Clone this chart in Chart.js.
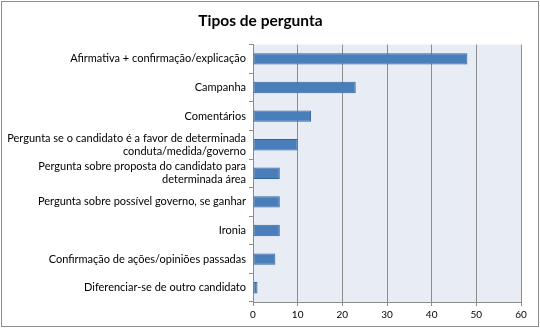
<!DOCTYPE html>
<html>
<head>
<meta charset="utf-8">
<script src="https://cdn.jsdelivr.net/npm/chart.js@4"></script>
<style>
  body { margin: 0; background: #fff; }
  #wrap { position: relative; width: 540px; height: 328px; }
  #frame { position: absolute; left: 1px; top: 1px; width: 536px; height: 324px; border: 1px solid #8e8e8e; pointer-events: none; }
</style>
</head>
<body>
<div id="wrap">
  <canvas id="chart" width="540" height="328"></canvas>
  <div id="frame"></div>
</div>
<script>
// categories, top to bottom
const categories = [
  'Afirmativa + confirmação/explicação',
  'Campanha',
  'Comentários',
  ['Pergunta se o candidato é a favor de determinada', 'conduta/medida/governo'],
  ['Pergunta sobre proposta do candidato para', 'determinada área'],
  'Pergunta sobre possível governo, se ganhar',
  'Ironia',
  'Confirmação de ações/opiniões passadas',
  'Diferenciar-se de outro candidato'
];
const counts = [48, 23, 13, 10, 6, 6, 6, 5, 1];
const xTicks = [0, 10, 20, 30, 40, 50, 60];

const fontFamily = 'Lato, "Open Sans", sans-serif';

// light blue-grey plot background
const plotBg = {
  id: 'plotBg',
  beforeDraw(chart) {
    const { ctx, chartArea: a } = chart;
    ctx.save();
    ctx.fillStyle = '#e8ecf4';
    ctx.fillRect(a.left, a.top, a.right - a.left, a.bottom - a.top);
    ctx.restore();
  }
};

const ctx = document.getElementById('chart').getContext('2d');
new Chart(ctx, {
  type: 'bar',
  data: {
    labels: categories,
    datasets: [{
      label: 'Tipos de pergunta',
      data: counts,
      backgroundColor: '#4a7ebb',
      borderColor: '#35649c',
      borderWidth: 1,
      borderSkipped: false,
      barPercentage: 0.4,
      categoryPercentage: 1
    }]
  },
  options: {
    indexAxis: 'y',
    responsive: false,
    animation: false,
    layout: { padding: { top: 2, left: 0, right: 19, bottom: 0 } },
    plugins: {
      legend: { display: false },
      tooltip: { enabled: false },
      title: {
        display: true,
        text: 'Tipos de pergunta',
        color: '#000',
        font: { family: fontFamily, size: 15.5, weight: 'bold' },
        padding: { top: 10, bottom: 14 }
      }
    },
    scales: {
      x: {
        min: 0,
        max: 60,
        afterBuildTicks(scale) {
          scale.ticks = xTicks.map(v => ({ value: v }));
        },
        afterFit(scale) { scale.height = 26; },
        grid: { color: '#8c8c8c', lineWidth: 1, tickLength: 4, drawTicks: true },
        border: { color: '#8c8c8c' },
        ticks: { color: '#000', padding: 3, font: { family: fontFamily, size: 10 } }
      },
      y: {
        afterFit(scale) { scale.width = 253; },
        grid: { offset: true, drawOnChartArea: false, tickLength: 4, color: '#8c8c8c' },
        border: { color: '#8c8c8c' },
        ticks: {
          autoSkip: false,
          color: '#000',
          padding: 3,
          font: { family: fontFamily, size: 11, lineHeight: 1.2 }
        }
      }
    }
  },
  plugins: [plotBg]
});
</script>
</body>
</html>
